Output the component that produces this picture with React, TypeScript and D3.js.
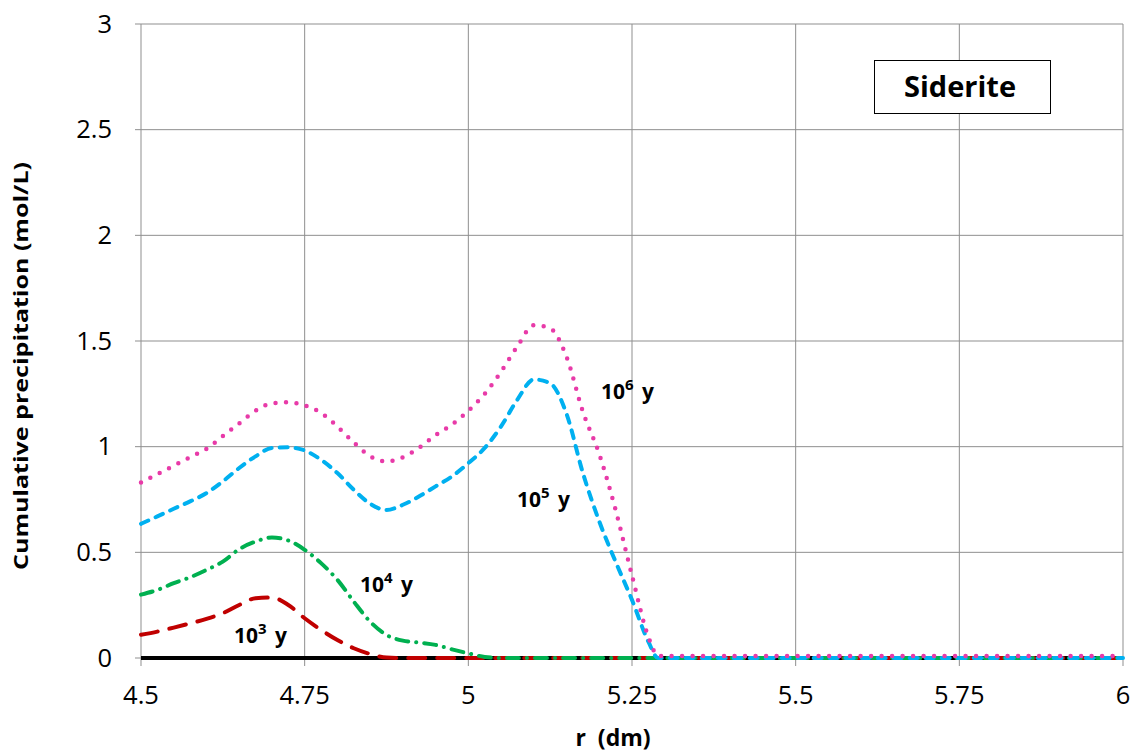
import React from "react";
import * as d3 from "d3";

const rValues = [
  4.5, 4.525, 4.55, 4.575, 4.6, 4.625, 4.65, 4.675, 4.7, 4.725, 4.75, 4.775, 4.8, 4.825, 4.85, 4.875,
  4.9, 4.925, 4.95, 4.975, 5.0, 5.025, 5.05, 5.075, 5.1, 5.125, 5.15, 5.175, 5.2, 5.225, 5.25, 5.275,
  5.29, 5.35, 5.5, 5.75, 6.0,
];

const y1e6 = [
  0.83, 0.87, 0.91, 0.95, 0.99, 1.05, 1.11, 1.17, 1.205, 1.21, 1.195, 1.16, 1.095, 1.02, 0.955, 0.93,
  0.95, 0.995, 1.055, 1.105, 1.17, 1.25, 1.355, 1.475, 1.575, 1.56, 1.425, 1.165, 0.965, 0.7, 0.39, 0.1,
  0.01, 0.01, 0.01, 0.01, 0.01,
];

const y1e5 = [
  0.635, 0.67, 0.706, 0.741, 0.78, 0.836, 0.899, 0.954, 0.994, 0.997, 0.982, 0.938, 0.875, 0.796, 0.73, 0.7,
  0.725, 0.765, 0.812, 0.859, 0.922, 0.994, 1.096, 1.223, 1.318, 1.3, 1.155, 0.875, 0.646, 0.455, 0.275, 0.077,
  0, 0, 0, 0, 0,
];

const y1e4 = [
  0.3, 0.322, 0.354, 0.382, 0.417, 0.456, 0.515, 0.551, 0.57, 0.556, 0.512, 0.449, 0.37, 0.267, 0.172, 0.109,
  0.082, 0.073, 0.062, 0.041, 0.022, 0.005, 0, 0, 0, 0, 0, 0, 0, 0, 0, 0,
  0, 0, 0, 0, 0,
];

const y1e3 = [
  0.11, 0.125, 0.144, 0.164, 0.185, 0.212, 0.251, 0.283, 0.286, 0.251, 0.188, 0.133, 0.085, 0.046, 0.019, 0.002,
  0, 0, 0, 0, 0, 0, 0, 0, 0, 0, 0, 0, 0, 0, 0, 0,
  0, 0, 0, 0, 0,
];

const yBase = rValues.map(() => 0);

const xTicks = [4.5, 4.75, 5, 5.25, 5.5, 5.75, 6];
const xTickLabels = ["4.5", "4.75", "5", "5.25", "5.5", "5.75", "6"];
const yTicks = [0, 0.5, 1, 1.5, 2, 2.5, 3];
const yTickLabels = ["0", "0.5", "1", "1.5", "2", "2.5", "3"];

const seriesLabels = [
  { exp: "6", r: 5.2027, v: 1.2256 },
  { exp: "5", r: 5.0743, v: 0.7145 },
  { exp: "4", r: 4.8345, v: 0.3138 },
  { exp: "3", r: 4.642, v: 0.072 },
];

const W = 1137;
const H = 756;
const left = 141;
const right = 1123;
const top = 24;
const bottom = 658;

export default function App() {
  const x = d3.scaleLinear().domain([4.5, 6]).range([left, right]);
  const y = d3.scaleLinear().domain([0, 3]).range([bottom, top]);
  const line = (vals: number[]) =>
    d3
      .line<number>()
      .x((_, i) => x(rValues[i]))
      .y((d) => y(d))
      .curve(d3.curveMonotoneX)(vals) || "";

  const grid = "#8f8f8f";
  const font = "'Open Sans', sans-serif";

  return (
    <svg
      width={W}
      height={H}
      style={{ position: "absolute", left: 0, top: 0, background: "#fff" }}
    >
      <rect x={0} y={0} width={W} height={H} fill="#fff" />
      {yTicks.map((t) => (
        <line key={"gy" + t} x1={left - 6} x2={right} y1={y(t)} y2={y(t)} stroke={grid} strokeWidth={1} />
      ))}
      {xTicks.map((t) => (
        <line key={"gx" + t} x1={x(t)} x2={x(t)} y1={top} y2={bottom + 8} stroke={grid} strokeWidth={1} />
      ))}
      {yTicks.map((t, i) => (
        <text
          key={"ty" + t}
          x={112}
          y={y(t) + 8.5}
          textAnchor="end"
          fontFamily={font}
          fontSize={25.5}
          fill="#000"
        >
          {yTickLabels[i]}
        </text>
      ))}
      {xTicks.map((t, i) => (
        <text
          key={"tx" + t}
          x={x(t)}
          y={704}
          textAnchor="middle"
          fontFamily={font}
          fontSize={25.5}
          fill="#000"
        >
          {xTickLabels[i]}
        </text>
      ))}
      <path d={line(yBase)} fill="none" stroke="#000" strokeWidth={4} />
      <path
        d={line(y1e3)}
        fill="none"
        stroke="#C00000"
        strokeWidth={4}
        strokeDasharray="17 12"
        strokeLinecap="round"
      />
      <path
        d={line(y1e4)}
        fill="none"
        stroke="#00B050"
        strokeWidth={4}
        strokeDasharray="12 8 0.1 8"
        strokeLinecap="round"
      />
      <path
        d={line(y1e5)}
        fill="none"
        stroke="#00B0F0"
        strokeWidth={4}
        strokeDasharray="8 8"
        strokeLinecap="round"
      />
      <path
        d={line(y1e6)}
        fill="none"
        stroke="#E83AA8"
        strokeWidth={4.5}
        strokeDasharray="0 10.5"
        strokeLinecap="round"
      />
      {seriesLabels.map((s) => (
        <text
          key={s.exp}
          x={x(s.r)}
          y={y(s.v)}
          fontFamily={font}
          fontWeight="bold"
          fontSize={21}
          fill="#000"
        >
          10
          <tspan fontSize={15} dy={-9}>
            {s.exp}
          </tspan>
          <tspan dy={9} dx={3}> y</tspan>
        </text>
      ))}
      <rect x={874.5} y={60.5} width={176} height={53} fill="#fff" stroke="#000" strokeWidth={1} />
      <text
        x={960}
        y={97}
        textAnchor="middle"
        fontFamily={font}
        fontWeight="bold"
        fontSize={29}
        fill="#000"
      >
        Siderite
      </text>
      <text
        x={613}
        y={746}
        textAnchor="middle"
        fontFamily={font}
        fontWeight="bold"
        fontSize={23}
        fill="#000"
        xmlSpace="preserve"
      >
        r  (dm)
      </text>
      <text
        transform={`translate(28, ${(162 + 570) / 2}) rotate(-90)`}
        textAnchor="middle"
        fontFamily={font}
        fontWeight="bold"
        fontSize={20}
        fill="#000"
        textLength={408}
        lengthAdjust="spacingAndGlyphs"
      >
        Cumulative precipitation (mol/L)
      </text>
    </svg>
  );
}
